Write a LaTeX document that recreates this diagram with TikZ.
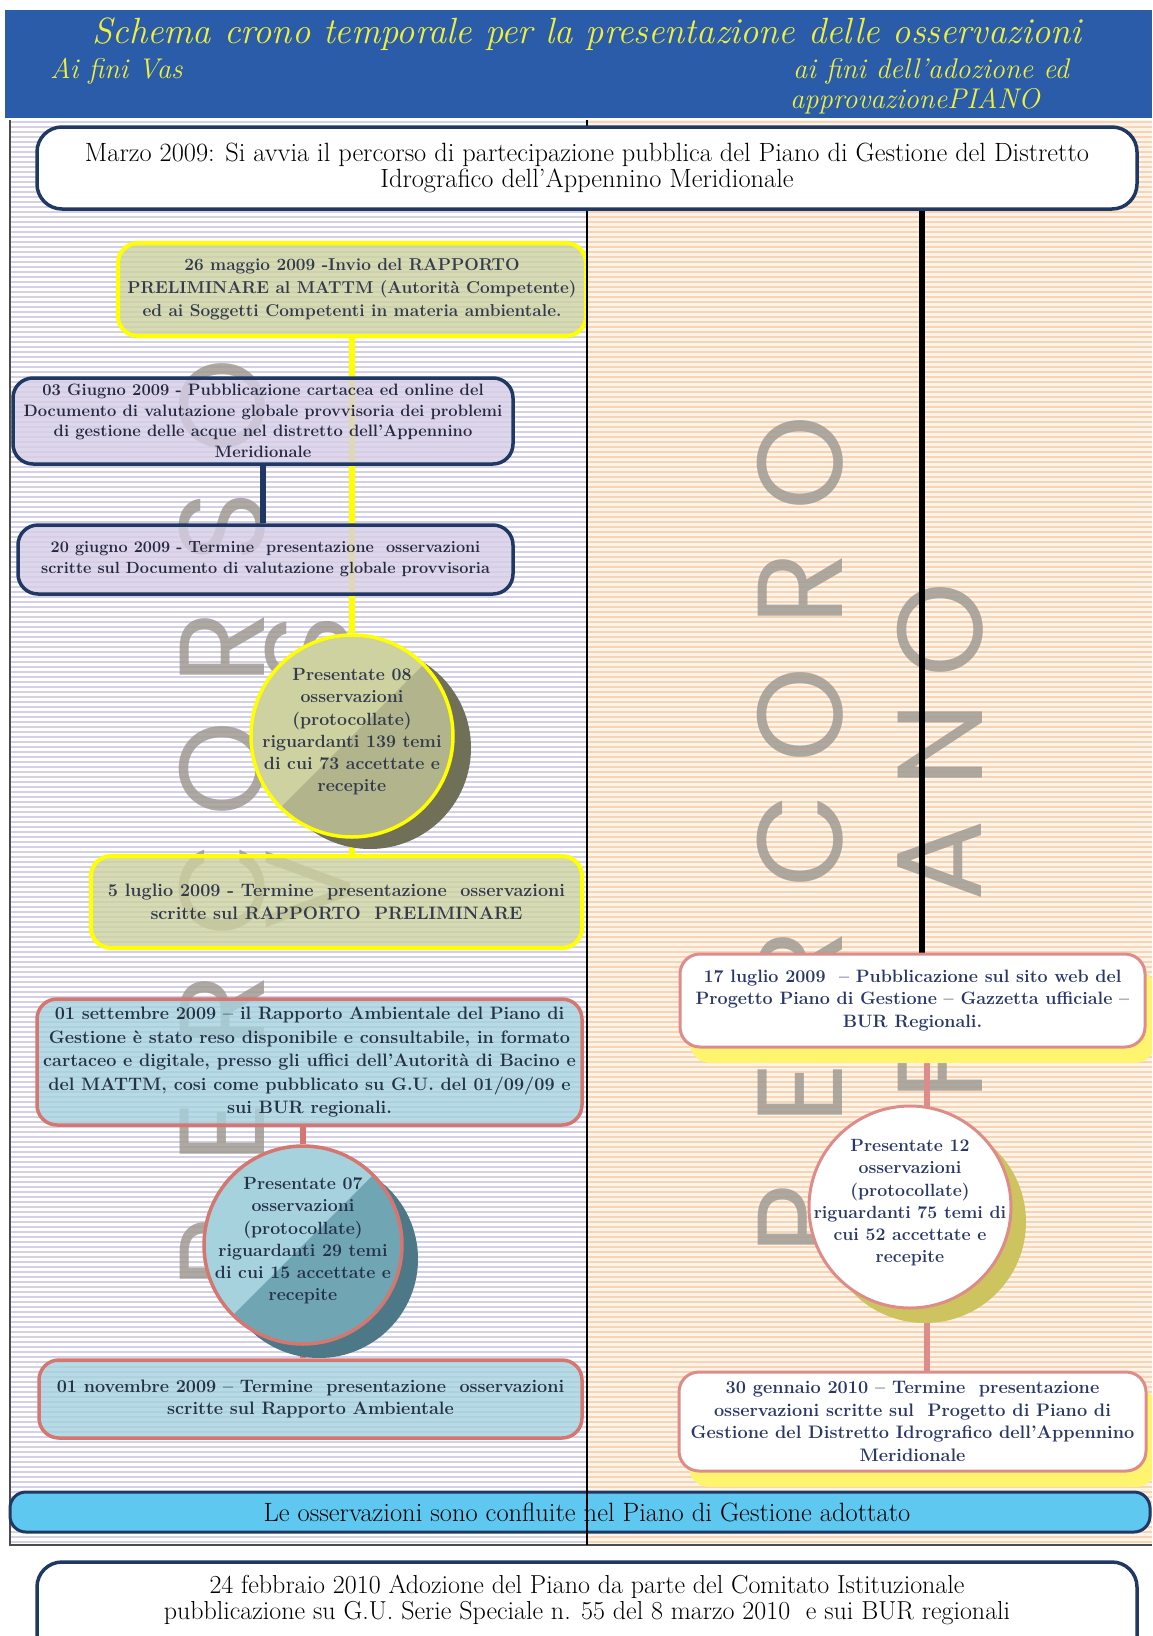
\documentclass[tikz,border=0pt]{standalone}
\usepackage{fontspec}
\newfontfamily\markfont{Poppins}
\usetikzlibrary{calc,shadows}
\pgfdeclarelayer{bg}
\pgfdeclarelayer{links}
\pgfsetlayers{bg,links,main}

\definecolor{headblue}{RGB}{43,92,170}
\definecolor{headyellow}{RGB}{240,240,60}
\definecolor{navy}{RGB}{31,56,100}
\definecolor{vasyellow}{RGB}{255,255,0}
\definecolor{vasolive}{RGB}{205,210,160}
\definecolor{vasdark}{RGB}{178,181,140}
\definecolor{vasshadow}{RGB}{112,112,88}
\definecolor{vastext}{RGB}{50,58,76}
\definecolor{doclilac}{RGB}{214,206,230}
\definecolor{doctext}{RGB}{36,40,64}
\definecolor{rasalmon}{RGB}{214,118,112}
\definecolor{rablue}{RGB}{166,210,222}
\definecolor{radark}{RGB}{112,165,180}
\definecolor{rashadow}{RGB}{76,120,135}
\definecolor{ratext}{RGB}{36,50,72}
\definecolor{plsalmon}{RGB}{222,140,138}
\definecolor{pltext}{RGB}{42,55,104}
\definecolor{plshadow}{RGB}{255,244,110}
\definecolor{plgold}{RGB}{205,195,95}
\definecolor{barblue}{RGB}{95,200,240}
\definecolor{stripeL}{RGB}{214,208,228}
\definecolor{stripeR}{RGB}{246,212,184}
\definecolor{baseR}{RGB}{253,243,230}
\definecolor{markgray}{RGB}{160,155,148}

% circle text: fixed circle size whatever the lines
\newcommand\circtext[1]{\smash{\makebox[0pt]{\begin{tabular}{@{}c@{}}#1\end{tabular}}}}

\begin{document}
\begin{tikzpicture}[x=1pt,y=-1pt,
    stripe/.style={line width=2pt},
    wmark/.style={rotate=90,inner sep=0pt,text=markgray,text opacity=0.85,
      font=\markfont\fontsize{121}{121}\selectfont},
    headtxt/.style={text=headyellow,inner sep=0pt,font=\itshape\fontsize{28.5}{30}\selectfont},
    evt/.style={rounded corners=20pt,align=center,inner sep=0pt},
    vasbox/.style={evt,draw=vasyellow,line width=4pt,fill=vasolive,fill opacity=0.8,text opacity=1,text=vastext},
    docbox/.style={evt,draw=navy,line width=3.5pt,fill=doclilac,fill opacity=0.8,text opacity=1,text=doctext},
    rabox/.style={evt,draw=rasalmon,line width=3.5pt,fill=rablue,fill opacity=0.8,text opacity=1,text=ratext},
    plbox/.style={evt,draw=plsalmon,line width=3pt,fill=white,text=pltext,
      drop shadow={shadow xshift=10pt,shadow yshift=-16pt,fill=plshadow,opacity=1}},
    mainbox/.style={evt,rounded corners=25pt,draw=navy,line width=3.5pt,fill=white,text=black,
      font=\fontsize{26.4}{26.5}\selectfont},
    obscirc/.style={circle,minimum size=202pt,inner sep=0pt,line width=3.5pt,
      font=\bfseries\fontsize{17.7}{22.3}\selectfont},
    vascirc/.style={obscirc,draw=vasyellow,fill=vasolive,text=vastext,
      path picture={\fill[vasdark] (path picture bounding box.north east) --
        (path picture bounding box.south east) -- (path picture bounding box.south west) -- cycle;},
      drop shadow={shadow xshift=18pt,shadow yshift=-12pt,fill=vasshadow,opacity=1}},
    racirc/.style={obscirc,minimum size=198pt,draw=rasalmon,fill=rablue,text=ratext,
      path picture={\fill[radark] (path picture bounding box.north east) --
        (path picture bounding box.south east) -- (path picture bounding box.south west) -- cycle;},
      drop shadow={shadow xshift=16pt,shadow yshift=-14pt,fill=rashadow,opacity=1}},
    plcirc/.style={obscirc,draw=plsalmon,fill=white,text=pltext,line width=3pt,
      drop shadow={shadow xshift=15pt,shadow yshift=-15pt,fill=plgold,opacity=1}},
    vasline/.style={vasyellow,line width=6pt},
    docline/.style={navy,line width=6pt},
    raline/.style={rasalmon,line width=6pt},
    plline/.style={plsalmon,line width=6pt},
    pianoline/.style={black,line width=6pt}
  ]
\def\bfs#1#2{\bfseries\fontsize{#1}{#2}\selectfont}
\useasboundingbox (0,0) rectangle (1152,1636);
\clip (0,0) rectangle (1152,1636);

% BACKGROUND & FRAME
\begin{pgfonlayer}{bg}
  \fill[headblue] (5,10) rectangle (1152,118);
  \fill[white] (10,120) rectangle (587,1545);
  \fill[baseR] (587,120) rectangle (1152,1545);
  \foreach \y in {122,127,...,1542}{
    \draw[stripe,stripeL] (10,\y) -- (587,\y);
    \draw[stripe,stripeR] (587,\y) -- (1152,\y);
  }
  \draw[gray!60!black,line width=1.5pt] (10,120) -- (10,1545) -- (1152,1545);

  % watermarks "PERCORSO VAS" / "PERCORO PIANO"
  \foreach \ch [count=\i from 0] in {P,E,R,C,O,R,S,O}
    \node[wmark] (wl\i) at (222,{1253-121*\i}) {\ch};
  \foreach \ch [count=\i from 0] in {V,A,S}
    \node[wmark] (wv\i) at (308,{890-120*\i}) {\ch};
  \foreach \ch [count=\i from 0] in {P,E,R,C,O,R,O}
    \node[wmark] (wr\i) at (800,{1219-126*\i}) {\ch};
  \foreach \ch/\y [count=\i from 0] in {P/1065,I/965,A/861,N/745,O/630}
    \node[wmark] (wp\i) at (940,\y) {\ch};
\end{pgfonlayer}

% HEADER
\node[headtxt,anchor=base,font=\itshape\fontsize{36.5}{40}\selectfont] (title) at (587,43)
  {Schema crono temporale per la presentazione delle osservazioni};
\node[headtxt,anchor=base west] (hvas) at (50,78) {Ai fini Vas};
\node[headtxt,anchor=base west] (hpia) at (793,78) {ai fini dell'adozione ed};
\node[headtxt,anchor=base west] (hpib) at (790,108) {approvazionePIANO};

% PERCORSO VAS (left)
\node[vasbox,minimum width=468pt,minimum height=93pt,font=\bfs{17.2}{23}] (rp26) at (352,289.5)
  {26 maggio 2009 -Invio del RAPPORTO\\ PRELIMINARE al MATTM (Autorità Competente)\\
   ed ai Soggetti Competenti in materia ambientale.};
\node[docbox,minimum width=500pt,minimum height=86pt,font=\bfs{16.5}{20.5}] (dg03) at (263,421)
  {03 Giugno 2009 - Pubblicazione cartacea ed online del\\
   Documento di valutazione globale provvisoria dei problemi\\
   di gestione delle acque nel distretto dell’Appennino\\ Meridionale};
\node[docbox,minimum width=495pt,minimum height=69pt,font=\bfs{16.2}{21}] (dg20) at (265.5,559.5)
  {20 giugno 2009 - Termine\ \ presentazione\ \ osservazioni\\
   scritte sul Documento di valutazione globale provvisoria};
\node[vascirc] (c08) at (352,736)
  {\circtext{Presentate 08\\ osservazioni\\ (protocollate)\\ riguardanti 139 temi\\ di cui 73 accettate e\\ recepite}};
\node[vasbox,minimum width=491pt,minimum height=92pt,font=\bfs{18}{22.5}] (rp05) at (336.5,902)
  {5 luglio 2009 - Termine\ \ presentazione\ \ osservazioni\\ scritte sul RAPPORTO\ \ PRELIMINARE};
\node[rabox,minimum width=545pt,minimum height=126pt,font=\bfs{18}{23.5}] (ra01) at (309.5,1062)
  {01 settembre 2009 – il Rapporto Ambientale del Piano di\\
   Gestione è stato reso disponibile e consultabile, in formato\\
   cartaceo e digitale, presso gli uffici dell’Autorità di Bacino e\\
   del MATTM, cosi come pubblicato su G.U. del 01/09/09 e\\ sui BUR regionali.};
\node[racirc] (c07) at (303,1245)
  {\circtext{Presentate 07\\ osservazioni\\ (protocollate)\\ riguardanti 29 temi\\ di cui 15 accettate e\\ recepite}};
\node[rabox,minimum width=543pt,minimum height=78pt,font=\bfs{18}{22.5}] (ra11) at (310.5,1399)
  {01 novembre 2009 – Termine\ \ presentazione\ \ osservazioni\\ scritte sul Rapporto Ambientale};

% PERCORSO PIANO (right)
\node[plbox,minimum width=465pt,minimum height=93pt,font=\bfs{17.9}{22.5}] (pl17) at (912.5,1000.5)
  {17 luglio 2009\ \ – Pubblicazione sul sito web del\\
   Progetto Piano di Gestione – Gazzetta ufficiale –\\ BUR Regionali.};
\node[plcirc] (c12) at (910,1207)
  {\circtext{Presentate 12\\ osservazioni\\ (protocollate)\\ riguardanti 75 temi di\\ cui 52 accettate e\\ recepite}};
\node[plbox,minimum width=467pt,minimum height=99pt,font=\bfs{18.1}{22.5}] (pl30) at (912.5,1421.5)
  {30 gennaio 2010 – Termine\ \ presentazione\\ osservazioni scritte sul\ \ Progetto di Piano di\\
   Gestione del Distretto Idrografico dell'Appennino\\ Meridionale};

% CONFLUENCE BAR, DIVIDER, OPENING & CLOSING
\node[evt,rounded corners=16pt,draw=navy,line width=3pt,fill=barblue,minimum width=1140pt,
  minimum height=40pt,font=\fontsize{26.5}{27}\selectfont] (obs) at (580,1512)
  {\hspace*{14pt}Le osservazioni sono confluite nel Piano di Gestione adottato};
\draw[black,line width=1.2pt] (587,120) -- (587,1545);
\node[mainbox,minimum width=1100pt,minimum height=82pt] (mz) at (587,168)
  {Marzo 2009: Si avvia il percorso di partecipazione pubblica del Piano di Gestione del Distretto\\
   Idrografico dell'Appennino Meridionale};
\draw[navy,fill=white,line width=3.5pt,rounded corners=25pt] (37,1562) rectangle (1137,1690);
\node[align=center,inner sep=0pt,font=\fontsize{26}{26.5}\selectfont] (ad24) at (587,1600)
  {24 febbraio 2010 Adozione del Piano da parte del Comitato Istituzionale\\
   pubblicazione su G.U. Serie Speciale n. 55 del 8 marzo 2010\ \ e sui BUR regionali};

% CONNECTORS
\coordinate (plx) at (922,0);
\coordinate (prx) at (927,0);
\begin{pgfonlayer}{links}
  \draw[vasline] (rp26) -- (c08);
  \draw[vasline] (c08.south) -- (c08.south |- rp05.north);
  \draw[docline] (dg03.south) -- (dg03.south |- dg20.north);
  \draw[raline] (c07.north |- ra01.south) -- (c07.north);
  \draw[raline] (c07.south) -- (c07.south |- ra11.north);
  \draw[pianoline] (mz.south -| plx) -- (pl17.north -| plx);
  \draw[plline] (pl17.south -| prx) -- (pl30.north -| prx);
\end{pgfonlayer}
\end{tikzpicture}
\end{document}
